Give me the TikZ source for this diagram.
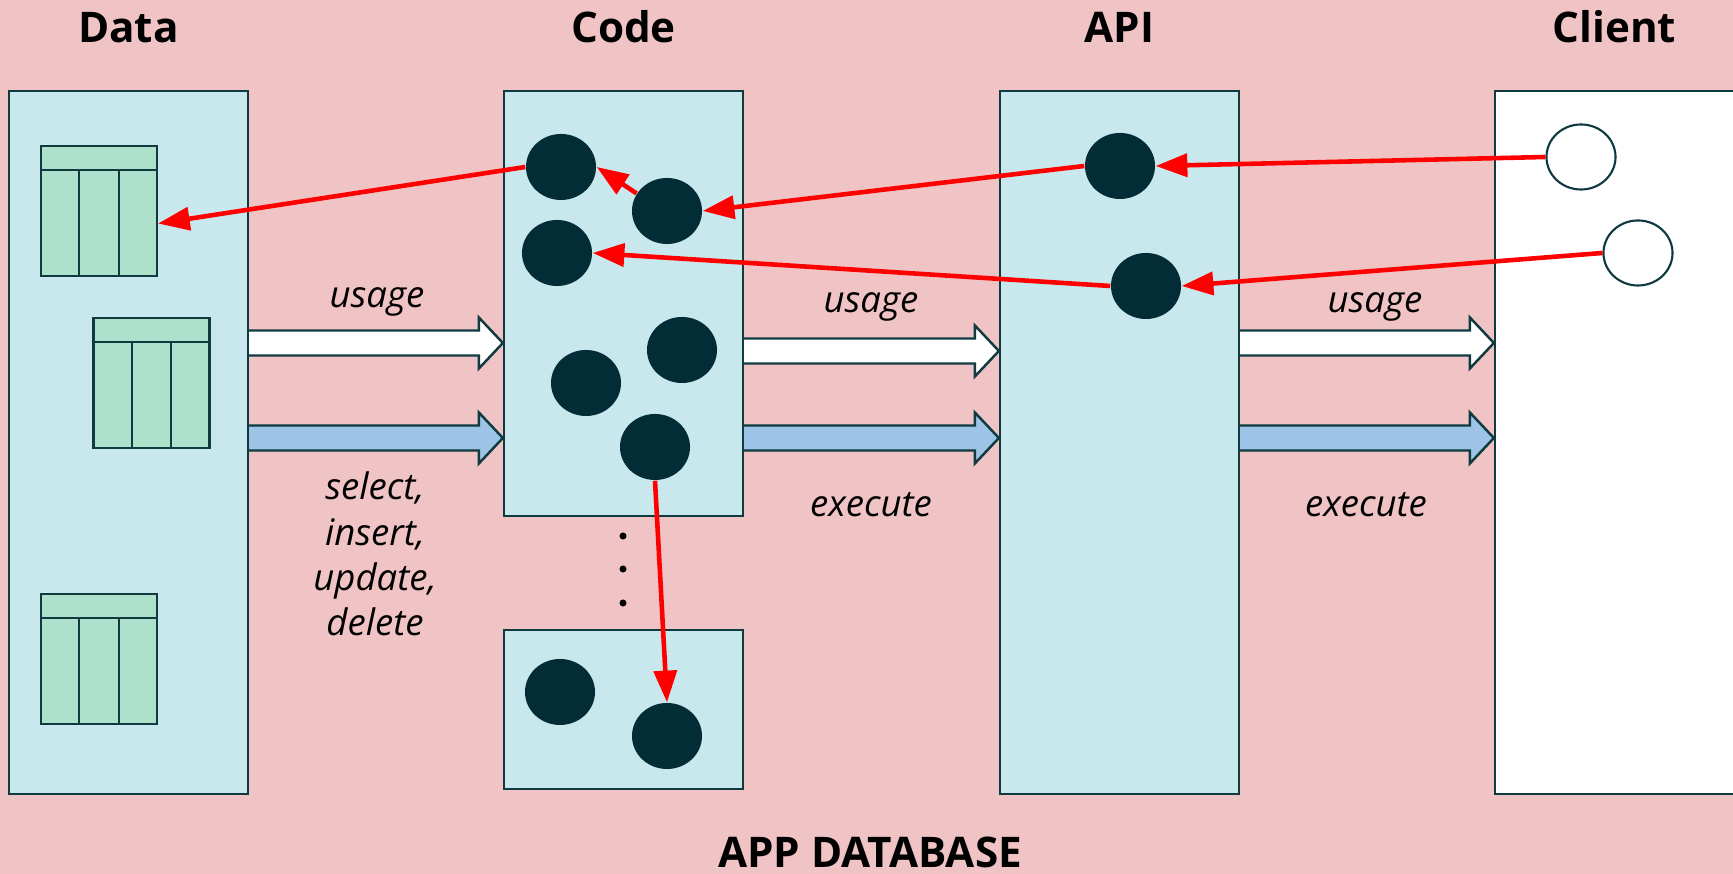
\documentclass[tikz,border=0pt]{standalone}
\usepackage{fontspec}
\setmainfont{Open Sans}
\usetikzlibrary{arrows.meta,calc,shapes.geometric}

\definecolor{bgpink}{HTML}{F0C4C5}
\definecolor{panelfill}{HTML}{C9E8EE}
\definecolor{edge}{HTML}{0E3A40}
\definecolor{objfill}{HTML}{032D36}
\definecolor{tablefill}{HTML}{ADE1CB}
\definecolor{flowblue}{HTML}{9DC4E7}
\definecolor{callred}{HTML}{FF0000}

\tikzset{
  panel/.style={rectangle, draw=edge, line width=0.6pt, fill=panelfill, inner sep=0pt, minimum width=2.39cm},
  tbl/.style={rectangle, draw=edge, line width=0.6pt, fill=tablefill, inner sep=0pt, minimum width=1.16cm, minimum height=1.30cm},
  obj/.style={ellipse, fill=objfill, inner sep=0pt, minimum width=0.70cm, minimum height=0.66cm},
  clientobj/.style={ellipse, draw=edge, line width=0.6pt, fill=white, inner sep=0pt, minimum width=0.69cm, minimum height=0.65cm},
  call/.style={draw=callred, line width=1.3pt, -{Triangle[length=9pt,width=6.5pt]}},
  flowline/.style={draw=edge, line width=0.7pt, line join=miter},
  heading/.style={font=\bfseries\fontsize{12}{14}\selectfont, anchor=base, inner sep=0pt},
  lbl/.style={font=\itshape\fontsize{10.4}{12.9}\selectfont, anchor=base, align=center, inner sep=0pt},
}

% header row and two column rules of a table icon
\newcommand\gridlines[1]{%
  \draw[edge, line width=0.6pt]
    ($(#1.north west)+(0,25)$) -- ($(#1.north east)+(0,25)$)
    ($(#1.north west)!0.3333!(#1.north east)+(0,25)$) -- ($(#1.south west)!0.3333!(#1.south east)$)
    ($(#1.north west)!0.6667!(#1.north east)+(0,25)$) -- ($(#1.south west)!0.6667!(#1.south east)$);
}

% wide block arrow from the east side of #1 to the west side of #2 at height #3
\newcommand\flowarrow[4]{%
  \draw[flowline, fill=#4]
    ($(#1.east |- 0,#3)+(0,-12.5)$) -- ($(#2.west |- 0,#3)+(-24,-12.5)$)
    -- ($(#2.west |- 0,#3)+(-24,-25.5)$) -- (#2.west |- 0,#3)
    -- ($(#2.west |- 0,#3)+(-24,25.5)$) -- ($(#2.west |- 0,#3)+(-24,12.5)$)
    -- ($(#1.east |- 0,#3)+(0,12.5)$);
}

\begin{document}
\begin{tikzpicture}[x=0.01cm, y=-0.01cm]
\clip (0,0) rectangle (1733,874);
\fill[bgpink] (0,0) rectangle (1733,874);

% columns
\node[panel, minimum height=7.03cm] (data) at (128.5,442.5) {};
\node[panel, minimum height=4.25cm] (code) at (623.5,303.5) {};
\node[panel, minimum height=1.59cm] (codeb) at (623.5,709.5) {};
\node[panel, minimum height=7.03cm] (api) at (1119.5,442.5) {};
\node[panel, fill=white, minimum height=7.03cm] (client) at (1614.5,442.5) {};

% column headings
\node[heading] at (data.north |- 0,43) {Data};
\node[heading] at (code.north |- 0,43) {Code};
\node[heading] at (api.north |- 0,43) {API};
\node[heading] at (client.north |- 0,43) {Client};
\node[heading] at (870,868) {APP DATABASE};

% tables
\node[tbl] (t1) at (99,211) {};
\node[tbl] (t2) at (151.5,383) {};
\node[tbl] (t3) at (99,659) {};
\gridlines{t1}
\gridlines{t2}
\gridlines{t3}

% block arrows between columns
\flowarrow{data}{code}{343}{white}
\flowarrow{data}{code}{438}{flowblue}
\flowarrow{code}{api}{351}{white}
\flowarrow{code}{api}{438}{flowblue}
\flowarrow{api}{client}{343}{white}
\flowarrow{api}{client}{438}{flowblue}

% arrow labels
\node[lbl] at (377,308) {usage};
\node[lbl] at (871,313) {usage};
\node[lbl] at (1375,313) {usage};
\node[lbl] at (375,636) {select,\\insert,\\update,\\delete};
\node[lbl] at (871,517) {execute};
\node[lbl] at (1366,517) {execute};

% code objects
\node[obj] (c1) at (561,167) {};
\node[obj] (c2) at (667,211) {};
\node[obj] (c3) at (557,253) {};
\node[obj] (c4) at (682,350) {};
\node[obj] (c5) at (586,383) {};
\node[obj] (c6) at (655,447) {};
\node[obj] (d1) at (560,692) {};
\node[obj] (d2) at (667,736) {};

% vertical ellipsis between code blocks
\fill (623,536) circle[radius=1pt];
\fill (623,569) circle[radius=1pt];
\fill (623,603) circle[radius=1pt];

% api endpoints
\node[obj] (a1) at (1120,166) {};
\node[obj] (a2) at (1146,286) {};

% client callers
\node[clientobj] (k1) at (1581,157) {};
\node[clientobj] (k2) at (1638,253) {};

% call chains
\draw[call] (k1.west) -- (a1.east);
\draw[call] (a1.west) -- (c2.east);
\draw[call] (c2.150) -- (c1.east);
\draw[call] (c1.west) -- (t1.-12);
\draw[call] (k2.west) -- (a2.east);
\draw[call] (a2.west) -- (c3.east);
\draw[call] (c6.south) -- (d2.north);
\end{tikzpicture}
\end{document}
